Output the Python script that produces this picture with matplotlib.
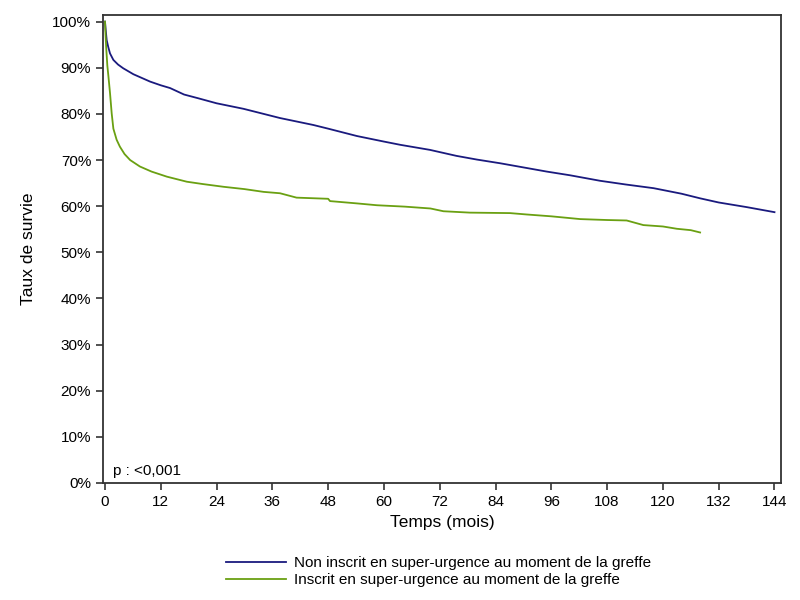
import matplotlib
matplotlib.use("Agg")
import matplotlib.pyplot as plt
from matplotlib.ticker import FuncFormatter

plt.rcParams['font.family'] = ['Liberation Sans', 'DejaVu Sans']

labels = ["Non inscrit en super-urgence au moment de la greffe",
          "Inscrit en super-urgence au moment de la greffe"]

t_non = [0, 0.15, 0.36, 0.7, 1.08, 1.8, 2.8, 3.9, 6.1, 9.7, 12, 14, 15.5, 17, 20, 24,
         29.8, 37.65, 44.8, 48, 54.2, 60, 63.5, 69.9, 75.6, 80, 85, 90, 95, 100,
         106.5, 112, 118, 124, 128, 132, 138, 144]
s_non = [100, 98.2, 96.0, 94.5, 93.1, 91.7, 90.7, 89.9, 88.6, 87.0, 86.2, 85.6, 84.9,
         84.2, 83.4, 82.3, 81.1, 79.1, 77.6, 76.8, 75.2, 74.0, 73.3, 72.2, 70.9, 70.1,
         69.3, 68.4, 67.5, 66.7, 65.5, 64.7, 63.9, 62.7, 61.7, 60.8, 59.8, 58.7]

t_su = [0, 0.1, 0.25, 0.5, 0.75, 1.08, 1.44, 1.8, 2.5, 3.2, 4.2, 5.4, 7.5, 10, 13.3,
        17.6, 21, 25.5, 30, 34.1, 37.65, 41.2, 48, 48.4, 54.2, 58.5, 64.5, 70, 72.8,
        78.5, 87.1, 90.7, 96, 102.2, 108, 112.2, 115.8, 120, 123, 126, 128]
s_su = [100, 97.5, 94.5, 90.5, 88.0, 84.5, 80.1, 76.8, 74.4, 72.9, 71.3, 70.0, 68.6,
        67.5, 66.4, 65.3, 64.8, 64.2, 63.7, 63.1, 62.8, 61.85, 61.6, 61.1, 60.6, 60.2,
        59.9, 59.5, 58.9, 58.6, 58.5, 58.2, 57.8, 57.2, 57.0, 56.9, 55.9, 55.6, 55.1,
        54.8, 54.3]

x_ticks = list(range(0, 145, 12))
y_ticks = list(range(0, 101, 10))
p_text = "p : <0,001"

c_non = '#1a1a7e'
c_su = '#6aa012'

fig = plt.figure(figsize=(8, 6), dpi=100)
ax = fig.add_axes([103/800, 1-483/600, (781-103)/800, (483-14.7)/600])

l1, = ax.plot(t_non, s_non, color=c_non, lw=1.3)
l2, = ax.plot(t_su, s_su, color=c_su, lw=1.3)

ax.set_xlim(-0.43, 145.4)
ax.set_ylim(0, 101.5)
ax.set_xticks(x_ticks)
ax.set_yticks(y_ticks)
ax.yaxis.set_major_formatter(FuncFormatter(lambda v, p: f"{int(v)}%"))
ax.tick_params(direction='out', length=5, width=1.2, color='#333333', labelsize=11,
               top=False, right=False)
for sp in ax.spines.values():
    sp.set_color('#333333')
    sp.set_linewidth(1.3)

ax.set_xlabel("Temps (mois)", fontsize=12.5, labelpad=4.5)
ax.set_ylabel("Taux de survie", fontsize=12.5, labelpad=12)
fig.text(113/800, 1-470.7/600, p_text, fontsize=11, va='center', ha='left')

fig.legend([l1, l2], labels, loc='center left', bbox_to_anchor=(226/800, 1-571.5/600),
           frameon=False, fontsize=11, handlelength=3.9, handletextpad=0.55,
           labelspacing=0.2, borderpad=0, borderaxespad=0)

fig.savefig("out.png", dpi=100)
